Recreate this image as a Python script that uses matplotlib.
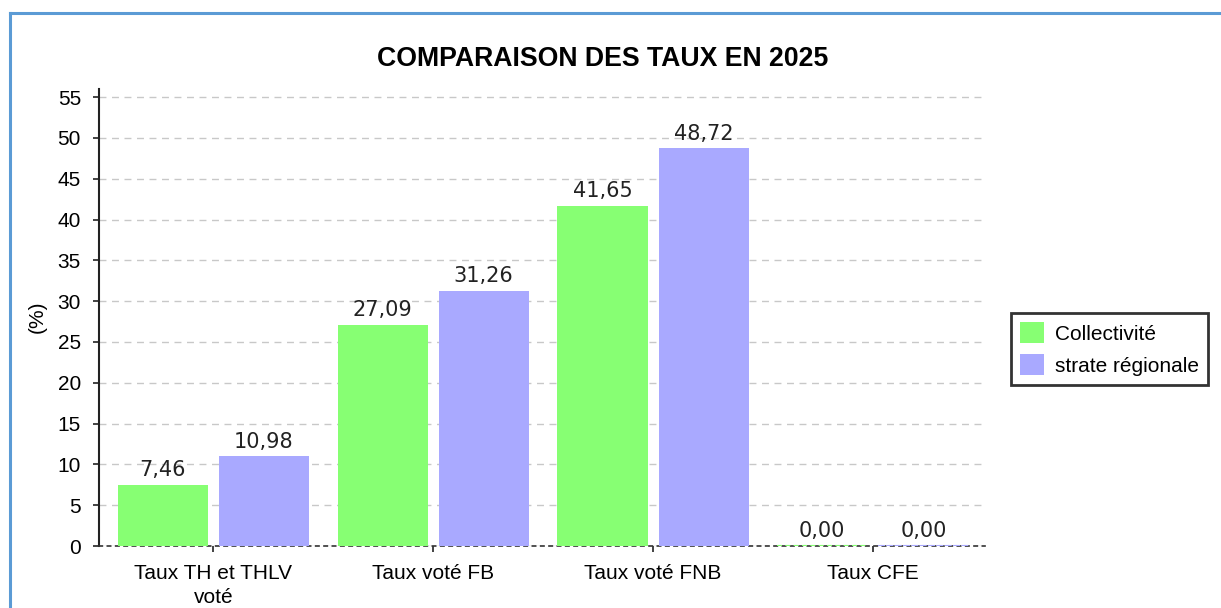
import matplotlib
matplotlib.use("Agg")
import matplotlib.pyplot as plt
from matplotlib.lines import Line2D
import numpy as np

categories = ["Taux TH et THLV\nvoté", "Taux voté FB", "Taux voté FNB", "Taux CFE"]
collectivite = [7.46, 27.09, 41.65, 0.00]
strate = [10.98, 31.26, 48.72, 0.00]
series_names = ["Collectivité", "strate régionale"]
yticks = list(range(0, 56, 5))

W, H = 1221, 608
fig = plt.figure(figsize=(W / 100, H / 100), dpi=100)
ax = fig.add_axes([99 / W, 1 - 546 / H, (985 - 99) / W, (546 - 89) / H])

green = "#87FF73"
blue = "#A9A9FF"
x = np.arange(len(categories))
bw = 0.41
b1 = ax.bar(x - 0.23, collectivite, bw, color=green, linewidth=0,
            label=series_names[0], zorder=3)
b2 = ax.bar(x + 0.23, strate, bw, color=blue, linewidth=0,
            label=series_names[1], zorder=3)
# zero-height bars appear as a dotted coloured line on the baseline
for bars, col in ((b1, green), (b2, blue)):
    for p in bars.patches:
        if p.get_height() == 0:
            p.set_edgecolor(col)
            p.set_linewidth(1.5)
            p.set_linestyle((0, (2, 2)))

fmt = lambda v: f"{v:.2f}".replace(".", ",")
for bars, vals in ((b1, collectivite), (b2, strate)):
    ax.bar_label(bars, labels=[fmt(v) for v in vals], padding=3.5,
                 fontsize=15, color="#222222", family="DejaVu Sans")

ax.set_xlim(-0.52, 3.51)
ax.set_ylim(0, 56)
ax.set_yticks(yticks)
ax.set_yticklabels([str(v) for v in yticks], family="Liberation Sans", fontsize=15)
ax.set_xticks(x)
ax.set_xticklabels(categories, family="Liberation Sans", fontsize=15, linespacing=1.3)
ax.tick_params(axis="y", length=4, width=1.2, pad=9, color="#222222")
ax.tick_params(axis="x", length=4, width=1.2, pad=9, color="#222222")

ax.grid(axis="y", color="#c8c8c8", linestyle=(0, (5, 4)), linewidth=1.0, zorder=0)
ax.set_axisbelow(True)
for s in ("top", "right"):
    ax.spines[s].set_visible(False)
ax.spines["left"].set_linewidth(1.5)
ax.spines["left"].set_color("#222222")
ax.spines["bottom"].set_linestyle((0, (2, 3)))
ax.spines["bottom"].set_linewidth(1.2)
ax.spines["bottom"].set_color("#333333")

fig.text(37 / W, 1 - 317 / H, "(%)", rotation=90, ha="center", va="center",
         family="Liberation Sans", fontsize=15)
fig.text(602.5 / W, 1 - 59 / H, "COMPARAISON DES TAUX EN 2025", ha="center", va="center",
         family="Liberation Sans", fontweight="bold", fontsize=19.2)

leg = fig.legend(handles=[b1, b2], labels=series_names, loc="upper left",
                 bbox_to_anchor=(1011 / W, 1 - 313 / H), borderaxespad=0,
                 prop={"family": "Liberation Sans", "size": 15},
                 handlelength=1.15, handleheight=1.15, handletextpad=0.5,
                 borderpad=0.45, labelspacing=0.5, fancybox=False, frameon=True)
leg.get_frame().set_edgecolor("black")
leg.get_frame().set_linewidth(2.0)
for h in leg.legend_handles:
    h.set_linewidth(0)

border = "#5B9BD5"
fig.add_artist(Line2D([10 / W, 1.0], [1 - 13 / H, 1 - 13 / H], transform=fig.transFigure,
                      color=border, linewidth=2.2))
fig.add_artist(Line2D([10 / W, 10 / W], [0, 1 - 13 / H], transform=fig.transFigure,
                      color=border, linewidth=2.2))

fig.savefig("out.png", dpi=100)
